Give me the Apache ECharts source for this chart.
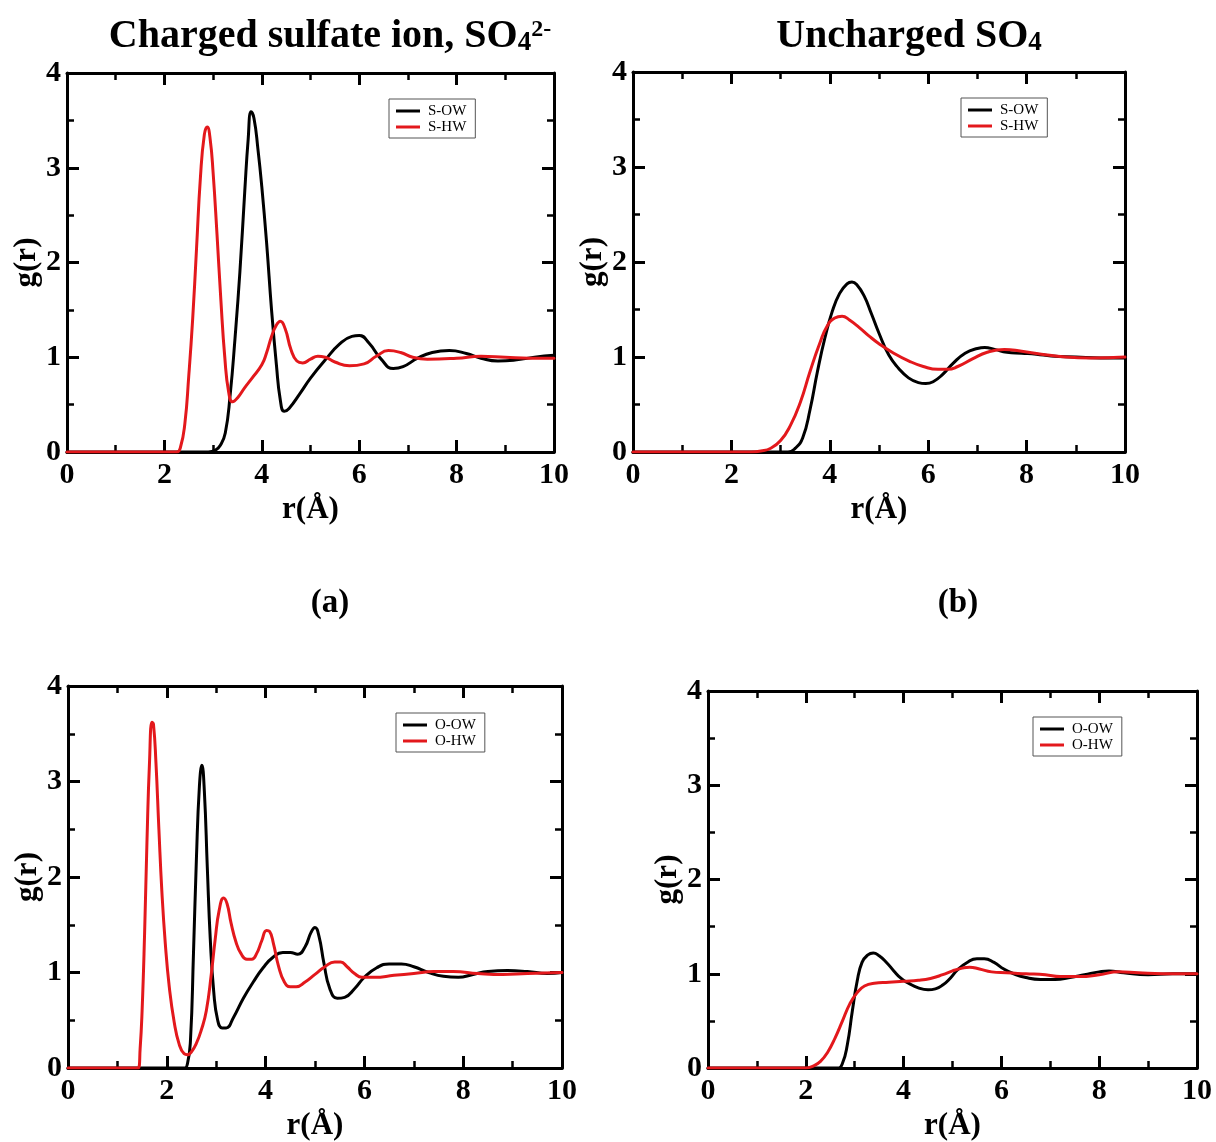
<!DOCTYPE html>
<html>
<head>
<meta charset="utf-8">
<title>Radial distribution functions around sulfate</title>
<script src="https://cdn.jsdelivr.net/npm/echarts@6/dist/echarts.min.js"></script>
<style>
  html, body { margin: 0; padding: 0; background: #fff; }
  #chart { width: 1216px; height: 1142px; }
</style>
</head>
<body>
<div id="chart"></div>
<script>
// ---- data: g(r) curves, pairs of [r (Å), g(r)] ----
const chargedSOW = [[0,0],[2.9,0],[3.05,0.02],[3.15,0.07],[3.25,0.2],[3.35,0.6],[3.45,1.2],[3.55,1.9],[3.65,2.75],[3.72,3.3],[3.78,3.59],[3.84,3.52],[3.92,3.2],[4.0,2.8],[4.1,2.2],[4.2,1.5],[4.3,0.92],[4.38,0.55],[4.46,0.43],[4.56,0.46],[4.8,0.63],[5.0,0.78],[5.3,0.97],[5.6,1.14],[5.85,1.22],[6.0,1.23],[6.2,1.15],[6.45,0.98],[6.7,0.88],[6.9,0.9],[7.2,0.99],[7.5,1.05],[7.85,1.07],[8.2,1.04],[8.5,0.99],[8.85,0.96],[9.2,0.97],[9.6,1.0],[10,1.02]];
const chargedSHW = [[0,0],[2.25,0],[2.33,0.05],[2.42,0.3],[2.5,0.8],[2.58,1.4],[2.66,2.15],[2.74,2.9],[2.82,3.35],[2.88,3.43],[2.94,3.3],[3.0,2.95],[3.08,2.3],[3.16,1.6],[3.24,1.0],[3.32,0.63],[3.4,0.53],[3.5,0.57],[3.65,0.68],[3.8,0.78],[4.0,0.92],[4.1,1.05],[4.2,1.22],[4.3,1.34],[4.38,1.38],[4.48,1.3],[4.6,1.08],[4.72,0.96],[4.84,0.94],[5.0,0.98],[5.15,1.01],[5.3,1.0],[5.5,0.95],[5.8,0.91],[6.1,0.93],[6.35,1.01],[6.6,1.07],[6.85,1.05],[7.1,1.0],[7.4,0.98],[8.0,0.99],[8.5,1.01],[9.0,1.0],[9.5,0.99],[10,0.99]];

const neutralSOW = [[0,0],[3.15,0],[3.3,0.04],[3.45,0.15],[3.6,0.45],[3.75,0.85],[3.9,1.2],[4.05,1.48],[4.2,1.67],[4.35,1.77],[4.45,1.79],[4.55,1.76],[4.7,1.64],[4.85,1.45],[5.0,1.25],[5.2,1.02],[5.4,0.88],[5.6,0.78],[5.8,0.73],[5.95,0.72],[6.1,0.74],[6.3,0.82],[6.5,0.93],[6.75,1.04],[7.0,1.09],[7.15,1.1],[7.35,1.08],[7.6,1.05],[7.9,1.04],[8.2,1.03],[8.5,1.01],[9.0,1.0],[9.5,0.99],[10,0.99]];
const neutralSHW = [[0,0],[2.4,0],[2.6,0.01],[2.8,0.04],[3.0,0.12],[3.2,0.28],[3.4,0.52],[3.6,0.85],[3.8,1.15],[3.95,1.33],[4.1,1.41],[4.25,1.43],[4.4,1.39],[4.6,1.31],[4.8,1.22],[5.0,1.14],[5.3,1.04],[5.6,0.96],[5.9,0.9],[6.2,0.87],[6.4,0.87],[6.6,0.9],[6.9,0.98],[7.2,1.05],[7.55,1.08],[7.9,1.06],[8.3,1.03],[8.8,1.0],[9.3,0.99],[10,1.0]];

const chargedOOW = [[0,0],[2.35,0],[2.42,0.05],[2.48,0.3],[2.54,1.2],[2.6,2.2],[2.66,2.95],[2.71,3.17],[2.76,2.9],[2.82,2.1],[2.88,1.35],[2.95,0.8],[3.03,0.5],[3.12,0.42],[3.2,0.42],[3.35,0.53],[3.55,0.73],[3.75,0.9],[3.95,1.05],[4.15,1.16],[4.35,1.21],[4.5,1.21],[4.65,1.19],[4.8,1.27],[4.92,1.42],[5.0,1.47],[5.08,1.38],[5.18,1.1],[5.3,0.83],[5.45,0.73],[5.6,0.74],[5.8,0.83],[6.0,0.95],[6.25,1.05],[6.5,1.09],[6.75,1.09],[7.0,1.06],[7.3,1.0],[7.6,0.96],[7.9,0.95],[8.2,0.98],[8.5,1.01],[8.9,1.02],[9.3,1.01],[9.7,0.99],[10,1.0]];
const chargedOHW = [[0,0],[1.42,0],[1.46,0.2],[1.5,0.6],[1.55,1.4],[1.6,2.4],[1.65,3.2],[1.7,3.62],[1.73,3.6],[1.78,3.2],[1.84,2.5],[1.9,1.85],[1.97,1.3],[2.05,0.85],[2.15,0.48],[2.25,0.25],[2.35,0.15],[2.42,0.14],[2.5,0.17],[2.6,0.26],[2.7,0.4],[2.8,0.6],[2.9,0.98],[2.98,1.35],[3.06,1.65],[3.15,1.78],[3.22,1.72],[3.3,1.52],[3.4,1.32],[3.5,1.2],[3.62,1.14],[3.72,1.14],[3.82,1.2],[3.92,1.33],[4.02,1.44],[4.08,1.43],[4.16,1.3],[4.26,1.07],[4.38,0.9],[4.5,0.85],[4.62,0.85],[4.8,0.9],[5.0,0.98],[5.2,1.06],[5.4,1.11],[5.52,1.11],[5.65,1.06],[5.8,0.99],[5.95,0.95],[6.2,0.95],[6.6,0.97],[7.0,0.99],[7.4,1.01],[7.8,1.01],[8.3,0.99],[8.8,0.98],[9.3,0.99],[10,1.0]];

const neutralOOW = [[0,0],[2.65,0],[2.75,0.05],[2.85,0.25],[2.95,0.6],[3.05,0.92],[3.15,1.12],[3.27,1.2],[3.38,1.22],[3.5,1.19],[3.65,1.12],[3.8,1.03],[3.95,0.95],[4.1,0.9],[4.3,0.85],[4.5,0.83],[4.65,0.84],[4.8,0.88],[4.95,0.95],[5.1,1.04],[5.3,1.12],[5.5,1.16],[5.65,1.16],[5.85,1.12],[6.05,1.05],[6.25,1.0],[6.5,0.96],[6.8,0.94],[7.1,0.94],[7.4,0.96],[7.7,0.99],[8.0,1.02],[8.2,1.03],[8.5,1.01],[9.0,0.99],[9.5,1.0],[10,1.0]];
const neutralOHW = [[0,0],[2.0,0],[2.15,0.02],[2.3,0.07],[2.45,0.17],[2.6,0.32],[2.75,0.5],[2.9,0.68],[3.05,0.8],[3.2,0.87],[3.4,0.9],[3.7,0.91],[4.0,0.92],[4.3,0.93],[4.55,0.95],[4.8,0.99],[5.0,1.03],[5.2,1.06],[5.35,1.07],[5.55,1.05],[5.8,1.02],[6.1,1.01],[6.5,1.0],[6.9,0.99],[7.2,0.97],[7.6,0.97],[8.0,0.99],[8.4,1.02],[8.8,1.01],[9.3,1.0],[10,1.0]];

const seriesNamesS = ['S-OW', 'S-HW'];
const seriesNamesO = ['O-OW', 'O-HW'];
const panelLetters = ['(a)', '(b)'];
const xAxisTitle = 'r(Å)';
const yAxisTitle = 'g(r)';

// ---- layout ----
const SERIF = '"Liberation Serif", "Times New Roman", serif';
const BLACK = '#000000';
const RED = '#e3181c';

const panels = [
  { left: 67, top: 73, width: 487, height: 379, names: seriesNamesS, data: [chargedSOW, chargedSHW], legend: { left: 389, top: 99 } },
  { left: 633, top: 72, width: 492, height: 380, names: seriesNamesS, data: [neutralSOW, neutralSHW], legend: { left: 961, top: 98 } },
  { left: 68, top: 686, width: 494, height: 384, names: seriesNamesO, data: [chargedOOW, chargedOHW], legend: { left: 396, top: 713 } },
  { left: 708, top: 691, width: 489, height: 379, names: seriesNamesO, data: [neutralOOW, neutralOHW], legend: { left: 1033, top: 717 } }
];

// boxed frame: every axis line sits on the grid edge, never on zero
const axisLineStyle = { show: true, onZero: false, lineStyle: { color: BLACK, width: 3 } };
const majorTick = { show: true, inside: true, length: 12, lineStyle: { color: BLACK, width: 3 } };
const minorTick = { show: true, splitNumber: 2, length: 7, lineStyle: { color: BLACK, width: 2.5 } };
const tickFont = { fontFamily: SERIF, fontWeight: 'bold', fontSize: 30, color: BLACK };

const grid = [], xAxis = [], yAxis = [], series = [], legend = [];

panels.forEach((p, i) => {
  grid.push({ left: p.left, top: p.top, width: p.width, height: p.height, containLabel: false });
  // bottom axis with labels, top axis mirrored
  xAxis.push({
    type: 'value', gridIndex: i, position: 'bottom', min: 0, max: 10, interval: 2,
    axisLine: axisLineStyle, axisTick: majorTick, minorTick: minorTick,
    splitLine: { show: false },
    axisLabel: Object.assign({ margin: 8 }, tickFont),
    name: xAxisTitle, nameLocation: 'middle', nameGap: 42,
    nameTextStyle: { fontFamily: SERIF, fontWeight: 'bold', fontSize: 31, color: BLACK }
  });
  xAxis.push({
    type: 'value', gridIndex: i, position: 'top', min: 0, max: 10, interval: 2,
    axisLine: axisLineStyle, axisTick: majorTick, minorTick: minorTick,
    splitLine: { show: false }, axisLabel: { show: false }
  });
  // left axis with labels, right axis mirrored
  yAxis.push({
    type: 'value', gridIndex: i, position: 'left', min: 0, max: 4, interval: 1,
    axisLine: axisLineStyle, axisTick: majorTick, minorTick: minorTick,
    splitLine: { show: false },
    axisLabel: Object.assign({ margin: 6 }, tickFont),
    name: yAxisTitle, nameLocation: 'middle', nameGap: 22,
    nameTextStyle: { fontFamily: SERIF, fontWeight: 'bold', fontSize: 31, color: BLACK }
  });
  yAxis.push({
    type: 'value', gridIndex: i, position: 'right', min: 0, max: 4, interval: 1,
    axisLine: axisLineStyle, axisTick: majorTick, minorTick: minorTick,
    splitLine: { show: false }, axisLabel: { show: false }
  });

  [BLACK, RED].forEach((c, k) => {
    series.push({
      type: 'line', name: p.names[k], xAxisIndex: 2 * i, yAxisIndex: 2 * i,
      data: p.data[k], showSymbol: false, symbol: 'none',
      smooth: 0.5,
      lineStyle: { color: c, width: 3, cap: 'round', join: 'round' },
      itemStyle: { color: c },
      z: 3 + k
    });
  });

  legend.push({
    data: p.names, orient: 'vertical', left: p.legend.left, top: p.legend.top,
    icon: 'rect', itemWidth: 24, itemHeight: 3, itemGap: 0,
    selectedMode: false,
    padding: [4, 9, 3, 7],
    borderColor: '#555', borderWidth: 1, backgroundColor: '#fff',
    textStyle: { fontFamily: SERIF, fontSize: 15, color: BLACK, lineHeight: 16, padding: [0, 0, 0, 3] }
  });
});

// panel titles and letters
const titleRich = {
  m: { fontFamily: SERIF, fontWeight: 'bold', fontSize: 40, lineHeight: 44, fill: BLACK, color: BLACK, verticalAlign: 'bottom' },
  sub: { fontFamily: SERIF, fontWeight: 'bold', fontSize: 27, lineHeight: 27, fill: BLACK, color: BLACK, verticalAlign: 'bottom' },
  sup: { fontFamily: SERIF, fontWeight: 'bold', fontSize: 24, lineHeight: 36, fill: BLACK, color: BLACK, verticalAlign: 'top', padding: [5, 0, 0, 0] }
};

const graphic = [
  { type: 'text', x: 330, y: 35, style: { text: '{m|Charged sulfate ion, SO}{sub|4}{sup|2-}', rich: titleRich, align: 'center', verticalAlign: 'middle', fill: BLACK } },
  { type: 'text', x: 909, y: 35, style: { text: '{m|Uncharged SO}{sub|4}', rich: titleRich, align: 'center', verticalAlign: 'middle', fill: BLACK } },
  { type: 'text', x: 330, y: 603, style: { text: panelLetters[0], font: 'bold 33px ' + SERIF, align: 'center', verticalAlign: 'middle', fill: BLACK } },
  { type: 'text', x: 958, y: 603, style: { text: panelLetters[1], font: 'bold 33px ' + SERIF, align: 'center', verticalAlign: 'middle', fill: BLACK } }
];

const chart = echarts.init(document.getElementById('chart'), null, { renderer: 'canvas' });
chart.setOption({
  animation: false,
  backgroundColor: '#ffffff',
  grid, xAxis, yAxis, series, legend, graphic
});
</script>
</body>
</html>
